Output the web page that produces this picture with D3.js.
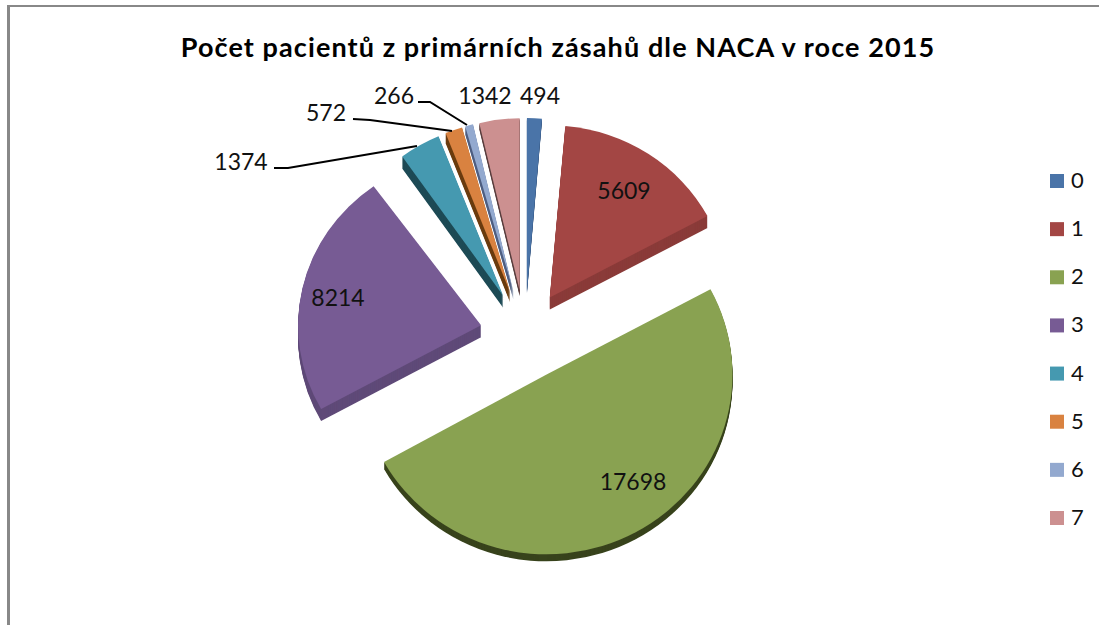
<!DOCTYPE html>
<html><head><meta charset="utf-8">
<script src="https://cdn.jsdelivr.net/npm/d3@7/dist/d3.min.js"></script>
<style>html,body{margin:0;padding:0;background:#fff}svg{display:block}</style></head>
<body><svg id="c" width="1099" height="625"></svg>
<script>
const categories = ["0","1","2","3","4","5","6","7"];
const values = [494,5609,17698,8214,1374,572,266,1342];
const title = "Počet pacientů z primárních zásahů dle NACA v roce 2015";
const colors = ["#4A74A8","#A34644","#89A251","#775B94","#4599B0","#D98240","#93A9CF","#CC9090"];
const sides = ["#2F4F7A","#8A3B39","#38431C","#5F4A78","#1D4A55","#6B3D10","#4F5F80","#5A3F3F"];
const radiusX = [172,179,186,183,172,172,172,172];
const radiusY = [172,172,180,172,172,172,172,172];
const depth = [3,12,7,12,12,10,8,6];

const cx=525,cy=335,explode=45;
const svg=d3.select("#c");
const font="Lato, 'Open Sans', sans-serif";

svg.append("rect").attr("x",7).attr("y",5).attr("width",1092).attr("height",2).attr("fill","#888");
svg.append("rect").attr("x",7).attr("y",5).attr("width",3).attr("height",620).attr("fill","#888");

svg.append("text").attr("x",558).attr("y",57).attr("text-anchor","middle")
  .attr("font-family",font).attr("font-weight",700).attr("font-size",27).attr("letter-spacing",1.1).attr("fill","#000").text(title);

const pie=d3.pie().sort(null).value(d=>d)(values);
const arc=d3.arc().innerRadius(0).outerRadius(1);
const place=(d,i,k)=>{
  const m=(d.startAngle+d.endAngle)/2;
  const x=cx+explode*Math.sin(m), y=cy-explode*Math.cos(m)+k;
  return `translate(${x},${y}) scale(${radiusX[i]},${radiusY[i]})`;
};

const g=svg.append("g");
pie.forEach((d,i)=>{
  for(let k=depth[i];k>=1;k--){
    g.append("path").attr("d",arc(d)).attr("transform",place(d,i,k)).attr("fill",sides[i]);
  }
  g.append("path").attr("d",arc(d)).attr("transform",place(d,i,0)).attr("fill",colors[i]);
});

const labels=[[1,624,199],[2,633,490],[3,338,306],[4,241,170],[5,326,121],[6,394,104],[7,485,104],[0,540,104]];
labels.forEach(([i,x,y])=>{
  svg.append("text").attr("x",x).attr("y",y).attr("text-anchor","middle")
    .attr("font-family",font).attr("font-size",23).attr("fill","#111").text(values[i]);
});

const leaders=[
 [[274,168],[288,168],[417,146]],
 [[353,119],[370,120],[452,131]],
 [[418,102],[430,102],[467,125]]
];
const line=d3.line();
leaders.forEach(p=>svg.append("path").attr("d",line(p)).attr("fill","none").attr("stroke","#000").attr("stroke-width",2));

const ly=d3.scalePoint().domain(categories).range([181,518]);
categories.forEach((c,i)=>{
  svg.append("rect").attr("x",1050).attr("y",ly(c)-7).attr("width",14).attr("height",14).attr("fill",colors[i]);
  svg.append("text").attr("x",1071).attr("y",ly(c)+7).attr("font-family",font).attr("font-size",22).attr("fill","#111").text(c);
});
</script></body></html>
